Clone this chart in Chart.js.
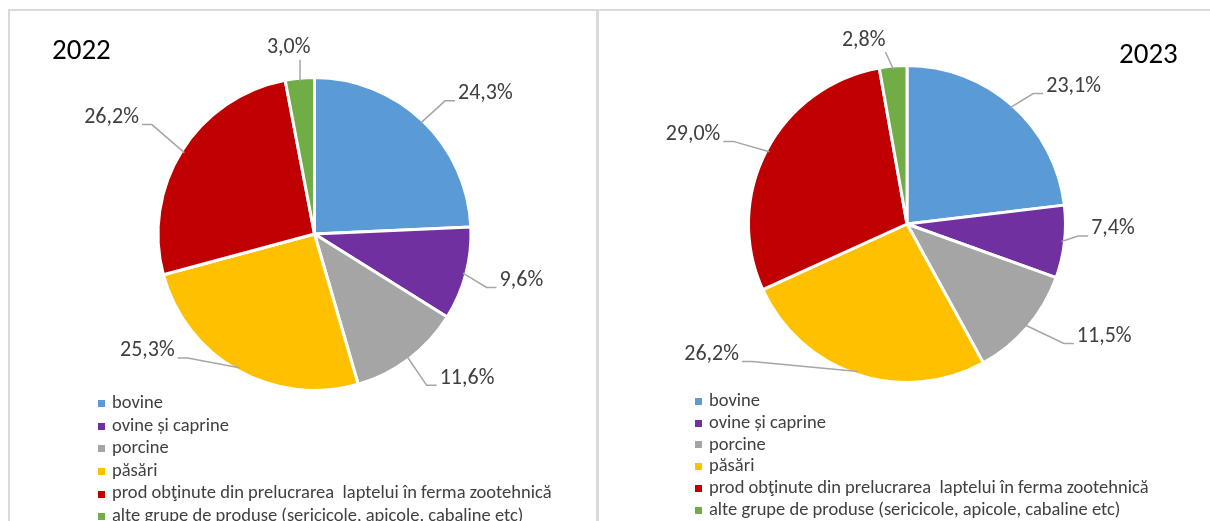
<!DOCTYPE html>
<html>
<head>
<meta charset="utf-8">
<script src="https://cdn.jsdelivr.net/npm/chart.js@4.4.1/dist/chart.umd.min.js"></script>
<style>
  html, body { margin: 0; padding: 0; background: #fff; }
  body { width: 1210px; height: 521px; position: relative; overflow: hidden;
         font-family: Calibri, Carlito, "Liberation Sans", Arial, sans-serif; color: #404040; }
  .line { position: absolute; background: #d9d9d9; }
  canvas { position: absolute; top: 0; }
  .year { position: absolute; font-size: 29px; line-height: 29px; color: #000; }
  .legend { position: absolute; margin: 0; padding: 0; list-style: none; font-size: 18.5px; }
  .legend li { position: relative; padding-left: 14px; white-space: pre; }
  .legend li span { position: absolute; left: 0; top: 50%; width: 7px; height: 7px; margin-top: -2px; }
</style>
</head>
<body>
<div class="line" style="left:8px; top:9px; width:1202px; height:2px"></div>
<div class="line" style="left:8px; top:9px; width:2px; height:512px"></div>
<div class="line" style="left:596px; top:9px; width:3px; height:512px"></div>

<canvas id="pie2022" width="597" height="521" style="left:0; width:597px; height:521px"></canvas>
<canvas id="pie2023" width="611" height="521" style="left:599px; width:611px; height:521px"></canvas>

<div class="year" style="left:52px; top:35px">2022</div>
<div class="year" style="left:1119px; top:39px">2023</div>

<ul class="legend" id="legend2022" style="left:98px; top:391px; line-height:22.6px"></ul>
<ul class="legend" id="legend2023" style="left:695px; top:389px; line-height:21.8px"></ul>

<script>
var categories = [
    'bovine',
    'ovine și caprine',
    'porcine',
    'păsări',
    'prod obţinute din prelucrarea  laptelui în ferma zootehnică',
    'alte grupe de produse (sericicole, apicole, cabaline etc)'
];
var values2022 = [24.3, 9.6, 11.6, 25.3, 26.2, 3.0];
var values2023 = [23.1, 7.4, 11.5, 26.2, 29.0, 2.8];
var sliceColors = ['#5B9BD5', '#7030A0', '#A5A5A5', '#FFC000', '#C00000', '#70AD47'];

// where each data label sits: [degrees off the slice middle, distance from centre px]
var labelPlace2022 = [[6.9, 221], [-2.1, 212], [-9.5, 210], [25.7, 204], [-2.2, 234], [-2.5, 188]];
var labelPlace2023 = [[8.9, 216], [-5.1, 206], [-10.8, 227], [37.9, 235], [-5, 232], [-8.2, 189]];

var labelFont = '22px Calibri, Carlito, "Liberation Sans", Arial, sans-serif';

var pieLabels = {
    id: 'pieLabels',
    afterDatasetsDraw: function (chart, args, opts) {
        var ctx = chart.ctx;
        var meta = chart.getDatasetMeta(0);
        var data = chart.data.datasets[0].data;
        ctx.save();
        ctx.font = labelFont;
        ctx.textAlign = 'center';
        ctx.textBaseline = 'middle';
        meta.data.forEach(function (arc, i) {
            var p = arc.getProps(['x', 'y', 'startAngle', 'endAngle', 'outerRadius'], true);
            var mid = (p.startAngle + p.endAngle) / 2;
            var a = mid + opts.place[i][0] * Math.PI / 180;
            var lx = p.x + Math.cos(a) * opts.place[i][1];
            var ly = p.y + Math.sin(a) * opts.place[i][1];
            var text = data[i].toFixed(1).replace('.', ',') + '%';
            var w = ctx.measureText(text).width;
            var ax = p.x + Math.cos(mid) * (p.outerRadius - 3);
            var ay = p.y + Math.sin(mid) * (p.outerRadius - 3);

            ctx.strokeStyle = '#a6a6a6';
            ctx.lineWidth = 1.5;
            ctx.beginPath();
            if (Math.abs(Math.cos(a)) < 0.35) {
                var bx = Math.min(Math.max(ax, lx - w / 2), lx + w / 2);
                ctx.moveTo(bx, ly + 12);
                ctx.lineTo(ax, ay);
            } else {
                var side = Math.cos(a) > 0 ? -1 : 1;
                var ex = lx + side * (w / 2 + 3);
                var sy = ly + 7;
                ctx.moveTo(ex, sy);
                ctx.lineTo(ex + side * 10, sy);
                ctx.lineTo(ax, ay);
            }
            ctx.stroke();

            ctx.fillStyle = '#404040';
            ctx.fillText(text, lx, ly);
        });
        ctx.restore();
    }
};

function makePie(id, values, place, cx, cy, r) {
    var canvas = document.getElementById(id);
    var s = r + 4;
    return new Chart(canvas, {
        type: 'pie',
        data: {
            labels: categories,
            datasets: [{
                data: values,
                backgroundColor: sliceColors,
                borderColor: '#ffffff',
                borderWidth: 3,
                radius: r
            }]
        },
        options: {
            responsive: false,
            animation: false,
            events: [],
            layout: {
                padding: {
                    left: cx - s,
                    right: canvas.width - cx - s,
                    top: cy - s,
                    bottom: canvas.height - cy - s
                }
            },
            plugins: {
                legend: { display: false },
                tooltip: { enabled: false },
                pieLabels: { place: place }
            }
        },
        plugins: [pieLabels]
    });
}

function makeLegend(id) {
    var ul = document.getElementById(id);
    categories.forEach(function (name, i) {
        var li = document.createElement('li');
        var box = document.createElement('span');
        box.style.background = sliceColors[i];
        li.appendChild(box);
        li.appendChild(document.createTextNode(name));
        ul.appendChild(li);
    });
}

makePie('pie2022', values2022, labelPlace2022, 314.5, 234, 156.5);
makePie('pie2023', values2023, labelPlace2023, 907 - 599, 224, 158.5);
makeLegend('legend2022');
makeLegend('legend2023');
</script>
</body>
</html>
